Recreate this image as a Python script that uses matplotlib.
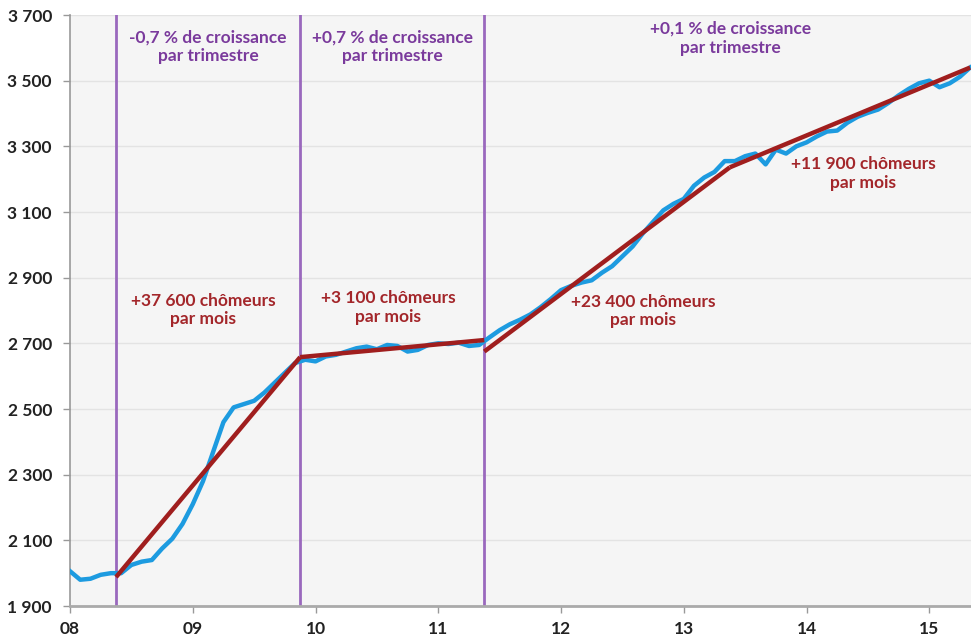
import matplotlib
matplotlib.use("Agg")
import matplotlib.pyplot as plt
from matplotlib.ticker import FuncFormatter
import numpy as np

# Demandeurs d'emploi (milliers), mensuel depuis janvier 2008
chomeurs = [
    2006, 1980, 1983, 1995, 2000, 2000, 2025, 2035, 2040, 2075, 2105, 2150,
    2210, 2280, 2370, 2460, 2505, 2515, 2525, 2550, 2580, 2610, 2640, 2650,
    2645, 2660, 2665, 2675, 2685, 2690, 2682, 2695, 2692, 2675, 2680, 2695,
    2700, 2698, 2702, 2692, 2695, 2718, 2740, 2758, 2772, 2788, 2810, 2835,
    2862, 2875, 2885, 2892, 2915, 2935, 2965, 2995, 3035, 3070, 3105, 3125,
    3140, 3180, 3205, 3222, 3255, 3255, 3270, 3278, 3245, 3290, 3278, 3300,
    3312, 3330, 3345, 3348, 3372, 3390, 3402, 3412, 3432, 3455, 3475, 3492,
    3500, 3480, 3492, 3512, 3540,
]
mois = 8 + np.arange(len(chomeurs)) / 12.0

# Tendances par période (début, fin)
tendance_x = [[8.375, 9.875], [9.875, 11.375], [11.375, 13.375], [13.375, 15.333]]
tendance_y = [[1988, 2658], [2658, 2710], [2675, 3236], [3236, 3540]]
ruptures = [8.375, 9.875, 11.375]

annees = list(range(8, 16))
graduations = list(range(1900, 3701, 200))

croissance_txt = ["-0,7 % de croissance\npar trimestre",
                  "+0,7 % de croissance\npar trimestre",
                  "+0,1 % de croissance\npar trimestre"]
croissance_pos = [(9.125, 3602), (10.63, 3602), (13.38, 3629)]

rythme_txt = ["+37 600 chômeurs\npar mois", "+3 100 chômeurs\npar mois",
              "+23 400 chômeurs\npar mois", "+11 900 chômeurs\npar mois"]
rythme_pos = [(9.085, 2801), (10.59, 2810), (12.67, 2798), (14.46, 3218)]

BLEU = "#1d9be0"
ROUGE = "#a01e1e"
VIOLET = "#9a68bd"
TXT_VIOLET = "#7a3a9c"
TXT_ROUGE = "#a3262a"

plt.rcParams["font.family"] = ["Lato", "DejaVu Sans"]

fig = plt.figure(figsize=(9.71, 6.42), dpi=100)
ax = fig.add_axes([70 / 971, 1 - 606 / 642, 1 - 70 / 971, (606 - 15) / 642])
ax.set_facecolor("#f5f5f5")

ax.set_xlim(8, 15.34)
ax.set_ylim(1900, 3700)
ax.set_yticks(graduations)
ax.set_xticks(annees)
ax.grid(axis="y", color="#e3e3e3", lw=1.0)
ax.set_axisbelow(True)

for xr in ruptures:
    ax.axvline(xr, color=VIOLET, lw=2.0, zorder=2)

ax.plot(mois, chomeurs, color=BLEU, lw=3.2, solid_joinstyle="round", zorder=3)
for tx, ty in zip(tendance_x, tendance_y):
    ax.plot(tx, ty, color=ROUGE, lw=3.2, solid_capstyle="butt", zorder=4)

for txt, (x, y) in zip(croissance_txt, croissance_pos):
    ax.text(x, y, txt, ha="center", va="center", color=TXT_VIOLET,
            fontsize=12.5, fontweight="bold", linespacing=1.2)
for txt, (x, y) in zip(rythme_txt, rythme_pos):
    ax.text(x, y, txt, ha="center", va="center", color=TXT_ROUGE,
            fontsize=12.5, fontweight="bold", linespacing=1.2)

ax.xaxis.set_major_formatter(FuncFormatter(lambda v, p: "%02d" % int(round(v))))
ax.yaxis.set_major_formatter(FuncFormatter(lambda v, p: "{:,}".format(int(v)).replace(",", " ")))
ax.tick_params(axis="both", colors="#999999", labelcolor="#222222", labelsize=12.5, length=5, width=1)
for lab in ax.get_xticklabels() + ax.get_yticklabels():
    lab.set_fontweight("bold")
ax.tick_params(axis="y", pad=8)
ax.tick_params(axis="x", pad=6)

for side in ["top", "right"]:
    ax.spines[side].set_visible(False)
ax.spines["left"].set_color("#999999")
ax.spines["bottom"].set_color("#aaaaaa")
ax.spines["left"].set_linewidth(1.2)
ax.spines["bottom"].set_linewidth(2)

fig.savefig("out.png", dpi=100)
